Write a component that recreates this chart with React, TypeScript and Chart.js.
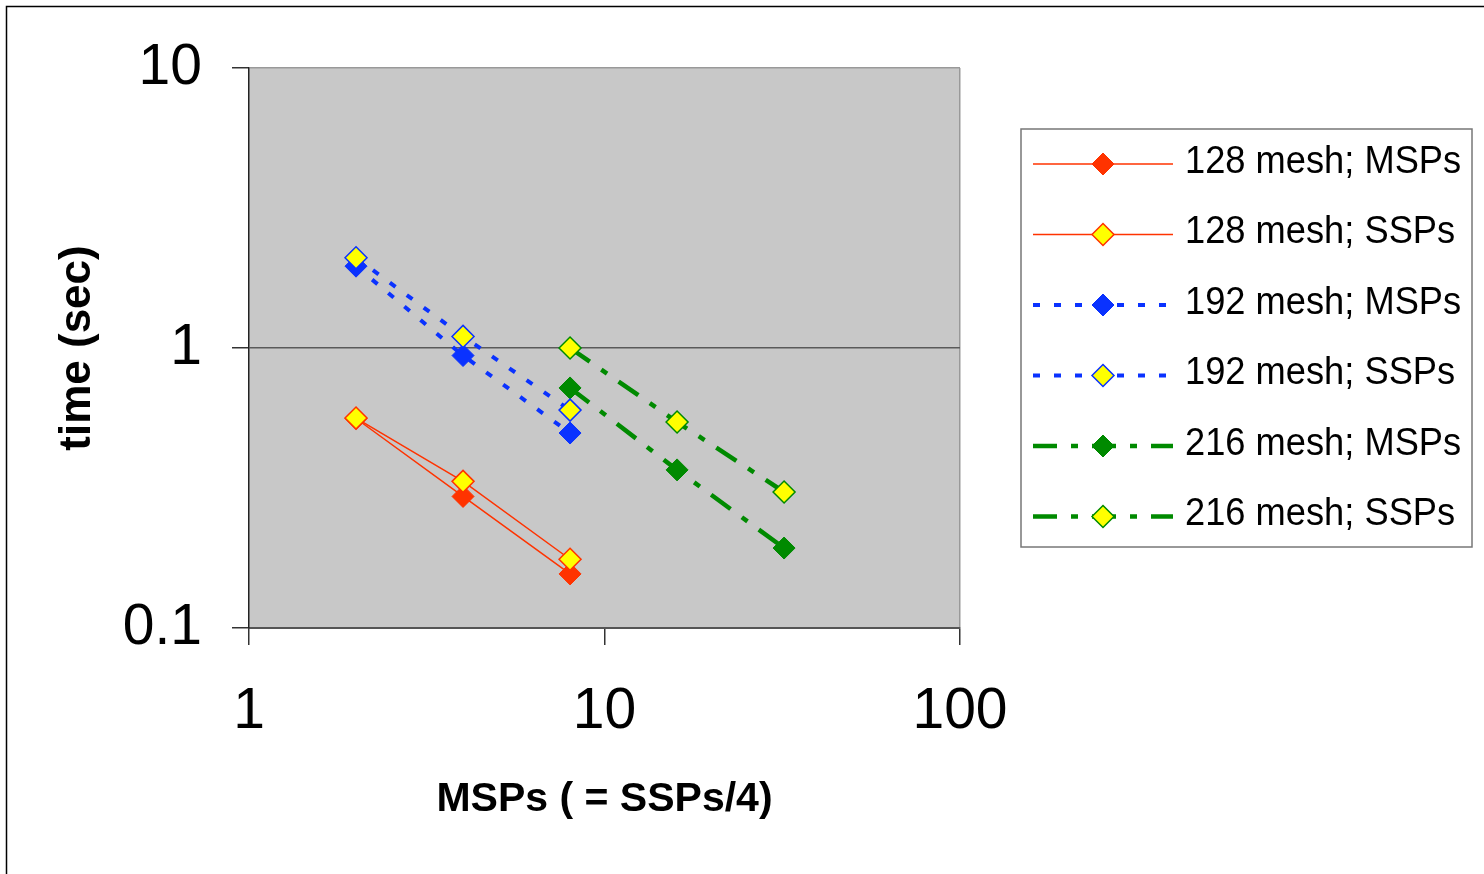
import React, { useEffect, useRef } from "react";
import { Chart, registerables } from "chart.js";

Chart.register(...registerables);

// ---- data ----
const seriesLabels = [
  "128 mesh; MSPs",
  "128 mesh; SSPs",
  "192 mesh; MSPs",
  "192 mesh; SSPs",
  "216 mesh; MSPs",
  "216 mesh; SSPs",
];

const mesh128X = [2, 4, 8];
const mesh128MSPs = [0.56, 0.295, 0.156];
const mesh128SSPs = [0.562, 0.334, 0.176];

const mesh192X = [2, 4, 8];
const mesh192MSPs = [1.96, 0.94, 0.497];
const mesh192SSPs = [2.1, 1.1, 0.6];

const mesh216X = [8, 16, 32];
const mesh216MSPs = [0.72, 0.367, 0.193];
const mesh216SSPs = [1.0, 0.544, 0.306];

const xTickValues = [1, 10, 100];
const yTickValues = [0.1, 1, 10];

const xTitle = "MSPs ( = SSPs/4)";
const yTitle = "time (sec)";

const RED = "#FF3300";
const BLUE = "#0A32FF";
const GREEN = "#008A00";
const YELLOW = "#FFFF00";

const FONT = "'Liberation Sans', Arial, sans-serif";

const toPoints = (xs: number[], ys: number[]) => xs.map((x, i) => ({ x, y: ys[i] }));

const bgPlugin = {
  id: "bgPlugin",
  beforeDraw(chart: any) {
    const { ctx, chartArea } = chart;
    ctx.save();
    ctx.fillStyle = "#FFFFFF";
    ctx.fillRect(0, 0, chart.width, chart.height);
    ctx.fillStyle = "#C8C8C8";
    ctx.fillRect(chartArea.left, chartArea.top, chartArea.right - chartArea.left, chartArea.bottom - chartArea.top);
    // outer frame
    ctx.strokeStyle = "#000";
    ctx.lineWidth = 1.5;
    ctx.beginPath();
    ctx.moveTo(6.5, chart.height);
    ctx.lineTo(6.5, 6.5);
    ctx.lineTo(chart.width, 6.5);
    ctx.stroke();
    ctx.restore();
  },
};

const legendPlugin = {
  id: "customLegend",
  afterDraw(chart: any) {
    const { ctx } = chart;
    const boxL = 1021, boxT = 129, boxR = 1472, boxB = 547;
    ctx.save();
    ctx.strokeStyle = "#777";
    ctx.lineWidth = 1.5;
    ctx.strokeRect(boxL, boxT, boxR - boxL, boxB - boxT);
    const rowStart = 164;
    const rowStep = 70.5;
    const lineL = 1033, lineR = 1173, markX = 1103, textX = 1185;
    chart.data.datasets.forEach((ds: any, idx: number) => {
      const y = rowStart + idx * rowStep;
      ctx.save();
      ctx.strokeStyle = ds.borderColor;
      ctx.lineWidth = ds.borderWidth;
      ctx.setLineDash(ds.borderDash || []);
      ctx.lineDashOffset = 0;
      ctx.beginPath();
      ctx.moveTo(lineL, y);
      ctx.lineTo(lineR, y);
      ctx.stroke();
      ctx.restore();
      // marker
      ctx.save();
      const r = ds.pointRadius;
      ctx.beginPath();
      ctx.moveTo(markX, y - r);
      ctx.lineTo(markX + r, y);
      ctx.lineTo(markX, y + r);
      ctx.lineTo(markX - r, y);
      ctx.closePath();
      ctx.fillStyle = ds.pointBackgroundColor;
      ctx.fill();
      ctx.strokeStyle = ds.pointBorderColor;
      ctx.lineWidth = ds.pointBorderWidth;
      ctx.stroke();
      ctx.restore();
      // text (slightly condensed, like the original)
      ctx.save();
      ctx.translate(textX, y - 2);
      ctx.scale(0.93, 1);
      ctx.fillStyle = "#000";
      ctx.font = `39px ${FONT}`;
      ctx.textBaseline = "middle";
      ctx.textAlign = "left";
      ctx.fillText(ds.label, 0, 0);
      ctx.restore();
    });
    ctx.restore();
  },
};

export default function App() {
  const canvasRef = useRef<HTMLCanvasElement | null>(null);

  useEffect(() => {
    if (!canvasRef.current) return;
    const solid: number[] = [];
    const dotted = [7, 14];
    const dashDot = [24, 14, 7, 14];
    const mk = (
      label: string,
      xs: number[],
      ys: number[],
      color: string,
      fill: string,
      dash: number[],
      width: number,
      order: number,
      pbw: number
    ) => ({
      label,
      data: toPoints(xs, ys),
      borderColor: color,
      backgroundColor: fill,
      borderWidth: width,
      borderDash: dash,
      pointStyle: "rectRot",
      pointRadius: 11,
      pointBackgroundColor: fill,
      pointBorderColor: color,
      pointBorderWidth: pbw,
      showLine: true,
      fill: false,
      tension: 0,
      order,
    });

    const chart = new Chart(canvasRef.current, {
      type: "scatter",
      data: {
        datasets: [
          mk(seriesLabels[0], mesh128X, mesh128MSPs, RED, RED, solid, 1.5, 1, 1),
          mk(seriesLabels[1], mesh128X, mesh128SSPs, RED, YELLOW, solid, 1.5, 0, 1.5),
          mk(seriesLabels[2], mesh192X, mesh192MSPs, BLUE, BLUE, dotted, 4, 1, 1),
          mk(seriesLabels[3], mesh192X, mesh192SSPs, BLUE, YELLOW, dotted, 4, 0, 1.5),
          mk(seriesLabels[4], mesh216X, mesh216MSPs, GREEN, GREEN, dashDot, 4.5, 1, 1),
          mk(seriesLabels[5], mesh216X, mesh216SSPs, GREEN, YELLOW, dashDot, 4.5, 0, 1.5),
        ] as any,
      },
      options: {
        animation: false,
        responsive: false,
        maintainAspectRatio: false,
        layout: { padding: { left: 0, top: 68, right: 524, bottom: 0 } },
        plugins: {
          legend: { display: false },
          tooltip: { enabled: false },
        },
        scales: {
          x: {
            type: "logarithmic",
            min: 1,
            max: 100,
            afterBuildTicks: (s: any) => {
              s.ticks = xTickValues.map((v) => ({ value: v }));
            },
            afterFit: (s: any) => {
              s.height = 246;
            },
            ticks: {
              autoSkip: false,
              maxRotation: 0,
              color: "#000",
              padding: 33,
              font: { family: FONT, size: 57 },
              callback: (v: any) => String(v),
            },
            grid: {
              color: (c: any) => (c.tick && c.tick.value === 100 ? "#999" : "rgba(0,0,0,0)"),
              tickColor: "#333",
              tickLength: 17,
              lineWidth: 1.5,
            },
            border: { display: true, color: "#555", width: 2 },
            title: {
              display: true,
              text: xTitle,
              color: "#000",
              font: { family: FONT, size: 41, weight: "bold" },
              padding: { top: 0, bottom: 50 },
            },
          },
          y: {
            type: "logarithmic",
            min: 0.1,
            max: 10,
            afterBuildTicks: (s: any) => {
              s.ticks = yTickValues.map((v) => ({ value: v }));
            },
            afterFit: (s: any) => {
              s.width = 249;
            },
            ticks: {
              autoSkip: false,
              color: "#000",
              padding: 30,
              font: { family: FONT, size: 57 },
              callback: (v: any) => String(v),
            },
            grid: {
              color: (c: any) => (c.tick && c.tick.value === 10 ? "#999" : "#5a5a5a"),
              tickColor: "#333",
              tickLength: 17,
              lineWidth: 1.5,
            },
            border: { display: true, color: "#222", width: 1.5 },
            title: {
              display: true,
              text: yTitle,
              color: "#000",
              font: { family: FONT, size: 44, weight: "bold" },
              padding: { top: 51, bottom: 0 },
            },
          },
        },
      } as any,
      plugins: [bgPlugin, legendPlugin],
    });
    return () => chart.destroy();
  }, []);

  return (
    <div style={{ position: "fixed", left: 0, top: 0, width: 1484, height: 874, background: "#fff" }}>
      <canvas ref={canvasRef} width={1484} height={874} style={{ width: 1484, height: 874, display: "block" }} />
    </div>
  );
}
